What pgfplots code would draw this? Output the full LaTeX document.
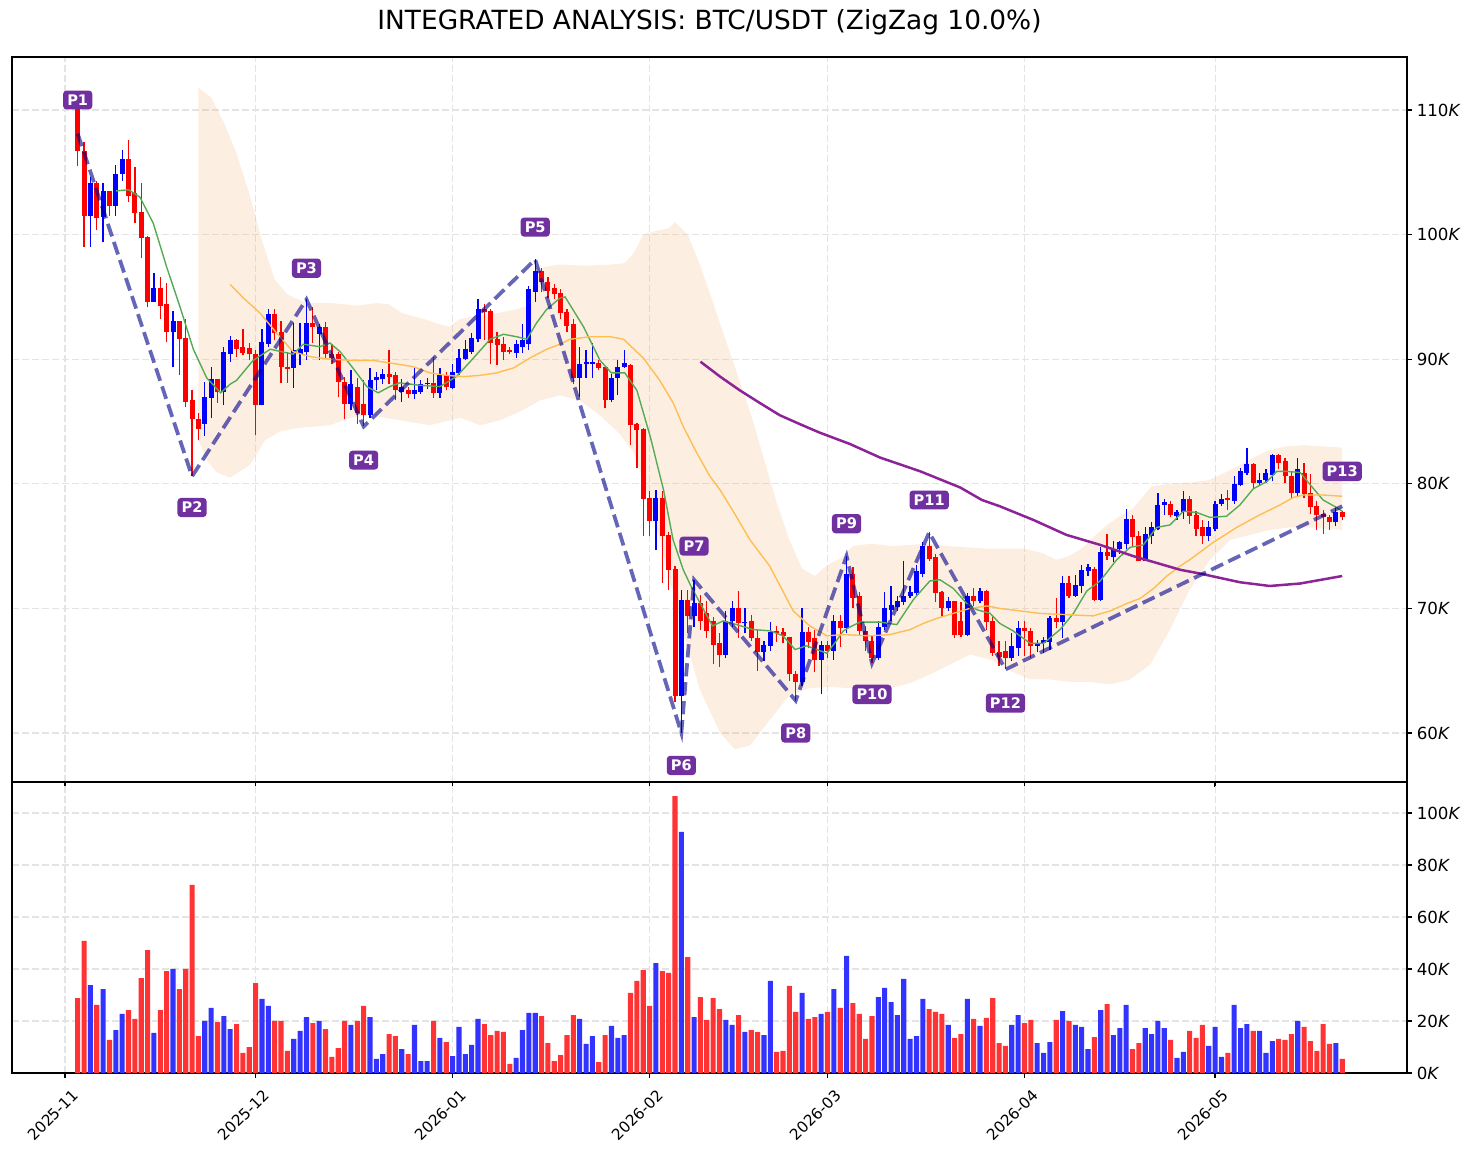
\documentclass[border=0pt]{standalone}
\usepackage{pgfplots}
\pgfplotsset{compat=1.18}
\usepackage{pgfplotstable}
\usepackage{fontspec}
\setmainfont{DejaVu Sans}

\definecolor{cred}{RGB}{255,0,0}
\definecolor{cblue}{RGB}{0,0,255}
\definecolor{vred}{RGB}{255,51,51}
\definecolor{vblue}{RGB}{51,51,255}
\definecolor{zz}{RGB}{0,0,139}
\definecolor{lblp}{RGB}{112,48,160}
\definecolor{smaA}{RGB}{85,170,85}
\definecolor{smaB}{RGB}{255,190,80}
\definecolor{smaC}{RGB}{140,35,150}
\definecolor{bandc}{RGB}{245,170,110}
\definecolor{gridc}{RGB}{228,228,228}

% day (0 = 2025-11-01), open, high, low, close, volume (K)
\pgfplotstableread{
d o h l c v
2 110.3 111.0 105.5 106.7 28.8
3 106.7 107.4 99.0 101.5 50.8
5 104.1 104.3 100.4 101.3 26.2
7 103.5 103.5 101.5 102.3 12.7
10 106.1 107.6 102.6 103.1 24.2
11 103.3 105.4 100.9 101.7 20.8
12 101.8 104.1 98.1 99.7 36.5
13 99.8 99.9 94.2 94.6 47.3
15 95.7 96.6 93.2 94.3 24.2
16 94.4 96.1 91.4 92.2 39.2
18 93.1 93.1 88.7 91.6 32.3
19 91.7 93.2 86.2 86.6 40.0
20 86.7 87.5 80.6 85.2 72.3
21 85.2 85.7 83.5 84.4 14.2
24 88.4 88.4 86.5 87.4 19.6
27 91.5 91.6 90.2 90.8 18.8
28 91.0 92.4 90.3 90.5 7.7
29 90.9 91.3 89.9 90.4 10.0
30 90.4 90.7 83.9 86.3 34.6
33 93.6 94.0 91.5 92.1 20.0
34 92.2 93.1 88.1 89.4 20.0
35 89.4 90.6 88.1 89.2 8.5
39 92.9 94.2 91.3 92.6 19.2
41 92.6 93.0 90.0 90.4 16.9
42 90.4 91.2 89.6 90.1 6.2
43 90.4 90.6 87.0 88.2 9.6
44 88.2 88.6 85.2 86.4 20.0
46 87.8 88.5 84.8 85.7 20.0
47 86.4 88.3 84.6 85.5 25.8
51 88.8 90.7 88.0 88.6 15.0
52 88.7 89.0 86.7 87.5 14.2
54 87.5 87.8 86.9 87.2 7.3
58 88.1 90.2 86.9 87.3 20.0
60 88.7 89.0 87.5 87.8 11.9
66 94.0 94.4 91.5 93.8 18.8
67 93.9 94.0 89.6 91.3 14.6
68 91.6 92.2 89.5 91.1 16.2
69 91.2 91.8 89.9 90.6 15.8
70 90.7 91.0 90.4 90.6 3.5
75 97.1 97.3 95.4 96.2 21.9
76 96.2 96.6 94.9 95.5 11.5
77 95.7 96.0 94.8 95.2 4.6
78 95.3 95.6 93.2 93.7 6.9
79 93.8 94.0 92.2 92.7 14.6
80 92.8 93.2 88.0 88.5 22.3
84 89.7 89.9 89.1 89.3 4.2
85 89.4 89.4 86.1 86.7 14.6
89 89.5 89.6 83.1 84.7 30.8
90 84.8 84.9 81.3 84.3 35.4
91 84.4 84.5 75.8 78.8 39.6
92 78.9 79.4 75.8 77.0 25.8
94 78.9 79.4 72.0 75.8 39.2
95 75.9 76.1 71.5 73.1 38.5
96 73.2 73.4 62.5 63.0 106.5
98 70.7 71.5 68.0 69.4 44.6
100 70.4 71.1 68.3 69.0 29.2
101 69.6 70.6 67.6 68.2 20.4
102 69.0 69.3 65.5 67.1 28.8
103 67.2 68.0 65.3 66.3 24.6
106 70.0 71.4 67.6 68.8 22.3
108 69.0 69.5 67.4 67.6 16.5
109 67.6 68.3 65.0 66.5 15.8
112 68.2 68.6 67.3 68.0 8.1
113 68.1 68.4 67.2 67.8 8.5
114 67.7 67.7 64.2 64.7 33.5
115 64.7 65.0 62.6 64.1 23.5
117 68.1 68.5 66.8 67.3 20.8
118 67.6 68.3 64.9 65.9 21.5
120 67.1 67.4 66.0 66.6 23.5
122 69.0 69.5 66.9 68.4 25.0
124 72.8 73.3 70.0 70.8 26.9
125 71.0 71.3 67.8 68.2 22.7
126 68.2 68.6 66.6 67.4 13.1
127 67.4 67.9 65.6 66.0 21.9
136 75.0 76.1 73.8 74.0 24.6
137 74.1 74.4 70.5 71.2 23.5
138 71.3 71.4 69.3 70.0 22.7
140 70.6 70.6 67.6 67.9 13.5
141 69.0 70.5 67.7 67.9 15.0
143 71.0 71.6 70.2 70.6 20.8
145 71.4 71.5 68.3 68.9 21.2
146 69.0 69.3 66.2 66.4 28.8
147 66.5 67.4 65.4 66.1 11.5
148 66.6 67.4 65.1 66.0 10.4
151 68.4 69.0 66.2 68.2 19.2
152 68.2 68.4 66.0 67.0 20.4
156 69.2 70.8 68.4 68.9 20.4
158 72.0 72.6 70.8 71.0 20.0
162 73.2 73.3 70.6 70.7 13.8
164 74.5 76.0 73.9 74.2 26.5
168 77.2 77.5 74.9 75.7 9.2
169 75.8 76.2 73.8 73.8 11.5
174 78.4 78.6 77.3 77.5 12.7
177 78.8 79.0 76.8 77.4 16.2
178 77.5 77.8 75.8 76.4 13.5
179 76.5 77.1 75.2 75.8 18.5
183 78.9 79.5 77.9 78.7 7.7
187 81.6 81.7 79.6 80.1 16.2
191 82.3 82.4 81.2 81.7 13.1
192 81.8 82.1 80.1 80.6 12.7
193 80.6 81.0 78.8 79.3 15.0
195 80.9 81.7 78.9 79.2 17.7
196 79.3 80.8 77.6 78.1 12.3
197 78.2 78.6 76.3 77.5 8.5
198 77.6 77.9 76.0 77.3 18.8
199 77.3 77.5 76.3 76.9 11.2
201 77.7 77.8 77.1 77.3 5.4
}\redtab

\pgfplotstableread{
d o h l c v
4 101.5 104.6 99.0 104.1 33.8
6 101.4 104.1 99.4 103.5 32.3
8 102.3 105.6 101.5 104.9 16.5
9 104.9 106.8 104.3 106.1 22.7
14 94.6 96.9 94.6 95.7 15.4
17 92.2 93.9 89.4 93.1 40.0
22 84.8 88.2 83.8 87.0 20.0
23 86.9 89.4 85.3 88.4 25.0
25 87.4 91.0 86.3 90.6 21.9
26 90.4 91.9 89.8 91.5 16.9
31 86.3 92.4 86.3 91.4 28.5
32 91.2 94.0 91.0 93.6 25.8
36 89.3 92.9 87.7 90.7 13.1
37 90.4 92.9 89.5 90.8 16.2
38 90.6 94.8 89.9 92.9 21.5
40 92.0 92.8 89.9 92.6 20.0
45 86.4 89.1 85.9 88.0 18.5
48 85.5 89.3 85.3 88.3 21.5
49 88.3 89.0 87.5 88.6 5.4
50 88.4 89.2 88.0 88.8 7.3
53 87.4 88.4 86.6 87.8 9.2
55 87.2 89.4 86.8 87.5 18.5
56 87.4 88.3 87.2 88.0 4.6
57 88.0 88.5 87.6 88.1 4.6
59 87.3 89.3 86.9 88.7 13.5
61 87.7 89.6 87.6 89.0 6.5
62 88.9 90.8 88.7 90.1 17.7
63 90.0 91.5 89.9 90.8 7.3
64 90.6 92.1 90.4 91.7 10.8
65 91.6 94.8 91.4 94.0 20.8
71 90.5 91.5 90.1 91.2 5.8
72 91.0 92.8 90.5 91.5 16.5
73 91.2 95.9 90.7 95.6 23.1
74 95.4 98.0 94.6 97.1 23.1
81 88.5 91.0 87.0 89.6 20.8
82 89.6 90.7 88.5 89.8 11.2
83 89.6 91.3 88.5 89.8 14.2
86 86.7 88.8 86.6 88.5 18.1
87 88.5 89.9 87.1 89.4 13.5
88 89.4 90.7 89.3 89.7 14.6
93 77.0 79.5 74.7 78.9 42.3
97 63.0 71.5 60.0 70.7 92.7
99 69.4 72.3 68.5 70.4 21.5
104 66.3 69.8 66.0 69.0 20.4
105 69.0 70.6 68.5 70.0 18.5
107 68.8 70.0 68.0 68.9 15.8
110 66.5 67.4 65.8 67.1 14.6
111 67.0 68.9 66.6 68.1 35.4
116 64.1 70.0 63.8 68.1 30.8
119 65.9 67.4 63.1 67.1 22.7
121 66.6 69.5 65.9 69.0 32.3
123 68.4 74.2 68.0 72.8 45.0
128 66.0 69.0 65.9 68.5 29.2
129 68.5 71.3 68.3 70.0 32.7
130 69.9 71.8 69.0 70.3 27.3
131 70.1 71.0 69.8 70.6 22.3
132 70.5 73.8 70.3 71.0 36.2
133 71.0 71.8 70.8 71.3 13.1
134 71.2 73.5 71.0 73.0 14.2
135 72.8 75.3 72.5 75.0 28.5
139 70.0 70.9 69.8 70.6 18.5
142 67.9 71.2 67.8 71.0 28.5
144 70.6 71.6 70.4 71.4 18.1
149 66.0 68.0 65.8 67.0 18.5
150 66.8 69.0 66.2 68.4 22.3
153 67.0 67.5 66.5 67.2 11.5
154 67.2 67.7 66.4 67.5 7.7
155 67.3 69.4 66.7 69.2 11.9
157 68.9 72.6 67.6 72.0 23.8
159 71.0 72.7 70.9 71.9 18.5
160 71.8 73.5 71.2 73.1 17.7
161 73.0 73.6 72.6 73.3 9.2
163 70.7 74.9 70.6 74.5 24.2
165 74.1 75.4 73.7 74.8 14.6
166 74.8 75.4 74.4 75.3 17.3
167 75.2 78.0 74.8 77.2 26.2
170 73.8 76.5 73.8 76.0 17.3
171 75.8 76.9 75.2 76.5 15.0
172 76.4 79.3 76.3 78.3 20.0
173 78.3 78.8 77.5 78.5 17.3
175 77.4 77.9 77.1 77.7 5.8
176 77.7 79.4 77.2 78.8 8.1
180 75.8 77.0 75.4 76.5 10.4
181 76.4 78.6 76.2 78.4 17.7
182 78.4 79.2 78.2 78.8 6.2
184 78.6 80.6 78.4 80.0 26.2
185 79.9 81.3 79.8 81.0 17.3
186 80.9 82.9 80.7 81.6 18.8
188 80.1 80.9 79.9 80.3 16.2
189 80.3 81.2 80.1 80.9 7.7
190 80.7 82.4 80.2 82.3 12.3
194 79.3 82.1 79.0 81.2 20.0
200 76.9 78.2 76.6 77.7 11.5
}\bluetab

% band outline: upper edge left to right, then lower edge right to left
\pgfplotstableread{
d b
21 111.8
23 111.0
25 109.0
27 106.5
29 103.3
31 99.5
33 96.4
35 95.2
38 94.5
42 94.5
46 94.3
49 94.5
51 94.4
53 93.7
56 93.3
59 92.8
60.5 92.6
62 93.2
65 93.5
68 93.7
71 94.0
73 94.3
74 96.9
75.5 97.4
78 97.6
82 97.5
86 97.6
88 97.7
89.5 98.5
91 100.0
93 100.3
95 100.5
96 101.0
98 100.0
100 97.5
102 94.5
104 91.5
106 88.5
108 85.5
110 82.0
112 78.5
114 75.5
116 73.2
118 72.6
120 73.5
122 74.0
124 75.0
127 75.2
130 75.0
133 75.1
136 75.2
139 75.0
142 74.9
145 74.8
148 74.8
151 74.8
154 74.4
156 73.9
158 74.2
160 74.8
162 75.8
164 76.7
166 77.4
168 78.0
171 79.8
174 80.0
177 80.1
180 80.3
183 81.0
186 81.8
189 82.6
192 83.0
195 83.1
198 83.0
201 82.9
201 76.3
195.9 76.5
192.8 76.5
189.6 76.3
186.5 75.9
183.4 75.5
180.2 73.9
177 71.5
173.9 68.3
170.8 65.5
167.6 64.3
164.5 63.9
161.3 64.1
158.2 64.1
155 64.3
151.9 64.3
148.7 65.0
145.6 65.9
142.4 66.3
139.3 65.5
136.1 64.7
133 64.0
129.8 63.6
126.7 63.7
123.5 63.6
120.4 63.7
117.2 63.6
114.1 63.1
111 61.1
107.8 59.0
105.4 58.7
103.1 60.0
99.9 63.5
96.8 69.0
93.6 75.5
91.5 79.5
89.5 82.5
87.3 84.0
84.2 85.5
81 86.7
77.9 87.1
74.8 86.7
71.6 85.8
68.5 85.1
65.3 84.7
62.2 85.3
57.4 84.7
52.7 85.1
48 85.5
44.9 85.3
41.7 84.7
37 84.5
33.8 84.2
31.5 83.5
29.1 81.5
26 80.5
23.9 80.9
22.3 81.9
21 83.5
}\bandtab

\pgfplotsset{
  common/.style={
    scale only axis, width=1004.4pt,
    xmin=-8.34, xmax=211.2,
    xtick={0,30,61,92,120,151,181},
    tick align=outside,
    major tick length=3.5pt,
    xtick pos=left, ytick pos=right, yticklabel pos=right,
    grid=major,
    major grid style={draw=gridc, line width=0.8pt, dash pattern=on 5pt off 2.2pt},
    axis line style={line width=0.9pt},
    every tick/.style={black, line width=0.9pt},
    tick label style={font=\fontsize{12}{14}\selectfont},
  }
}

\begin{document}
\begin{tikzpicture}[x=1pt,y=1pt]
\useasboundingbox (-8.64,-270.72) rectangle (1054.08,563.04);

\begin{axis}[common, at={(0,0)}, anchor=south west, height=522pt,
  ymin=56.07, ymax=114.25,
  xticklabels={},
  ytick={60,70,80,90,100,110},
  yticklabels={60\textit{K},70\textit{K},80\textit{K},90\textit{K},100\textit{K},110\textit{K}},
]
% band
\addplot[draw=none, fill=bandc, fill opacity=0.2] table[x=d, y=b] {\bandtab} -- cycle;
% wicks
\addplot[cred, line width=0.9pt, mark=none, quiver={u=0, v=\thisrow{h}-\thisrow{l}}] table[x=d, y=l] {\redtab};
\addplot[cblue, line width=0.9pt, mark=none, quiver={u=0, v=\thisrow{h}-\thisrow{l}}] table[x=d, y=l] {\bluetab};
% bodies
\addplot[cred, line width=3.6pt, mark=none, quiver={u=0, v=\thisrow{o}-\thisrow{c}}] table[x=d, y=c] {\redtab};
\addplot[cblue, line width=3.6pt, mark=none, quiver={u=0, v=\thisrow{c}-\thisrow{o}}] table[x=d, y=o] {\bluetab};
% short MA
\addplot[smaA, line width=1pt, mark=none] coordinates {
(8,103.5)(10,103.6)(11.8,103.0)(13.9,100.9)(16,97.4)(18.1,94.2)(20.2,90.8)(22.3,88.5)(24.5,87.3)(26,88.0)(27,88.3)(29.6,89.9)(32.3,90.8)(35.9,90.4)(37.5,91.2)(40.1,91.0)(41.7,91.3)(43.3,90.6)(45.3,89.3)(47.5,87.8)(49.3,87.3)(51.1,87.8)(52.7,88.1)(55.9,87.9)(59,87.8)(61.6,88.6)(64.3,90.1)(66.9,91.6)(69,92.0)(71.1,91.8)(72.7,91.6)(74.2,92.9)(75.8,94.0)(77.9,94.9)(78.7,95.0)(81.6,92.6)(84.2,89.9)(86,88.9)(88.1,88.9)(90,87.5)(92.1,83.8)(94.2,79.5)(95.7,75.5)(97.3,73.1)(98.5,71.8)(100.5,69.9)(101.9,68.6)(103.6,69.0)(105.7,68.7)(108.3,68.3)(111,68.2)(113,67.8)(114.9,66.7)(116.7,67.0)(119.9,66.4)(121.4,67.4)(122.5,68.2)(123.5,68.5)(125.1,68.9)(128.3,68.9)(130.9,68.7)(133.5,70.7)(136.1,72.2)(137.7,72.3)(139.8,71.6)(141.9,70.4)(143.5,69.9)(145.6,69.6)(147.1,68.8)(149.2,68.2)(151.9,67.2)(154,67.2)(156.6,68.3)(158.7,69.6)(160.8,71.4)(162.9,72.2)(165.5,73.9)(167.6,74.9)(169.7,75.1)(171.8,76.5)(173.9,76.7)(176,77.8)(178.1,77.7)(180.2,77.3)(182.8,77.4)(184.9,78.3)(187,79.6)(189.2,80.2)(190.7,81.0)(192.3,81.0)(194.4,80.9)(196,79.9)(198,78.7)(200.1,78.1)(201,77.8)
};
% medium MA
\addplot[smaB, line width=1pt, mark=none] coordinates {
(26,96.0)(28.1,94.9)(30.7,93.7)(33.3,92.1)(35.9,90.6)(38.6,90.2)(41.7,90.0)(45.4,89.9)(48.5,89.9)(51.1,89.7)(54.8,89.4)(57.4,88.9)(60.1,88.7)(62.7,88.6)(65.3,88.7)(67.9,88.9)(70.6,89.3)(73.2,90.1)(75.8,90.8)(77.9,91.2)(79.5,91.6)(82.6,91.8)(85.8,91.8)(87.9,91.6)(91,90.1)(93.6,88.3)(95.7,86.5)(97.3,84.6)(99.4,82.5)(101.5,80.6)(103.1,79.5)(105.5,77.5)(107.8,75.5)(110.9,73.4)(114.6,69.8)(117.2,68.6)(119.9,67.8)(122.5,67.9)(126.7,67.8)(129.8,67.9)(133,68.3)(135.1,68.8)(137.2,69.2)(139.8,69.6)(142.4,70.0)(145.1,70.2)(147.1,70.0)(150.3,69.8)(153.4,69.6)(157.6,69.5)(161.8,69.4)(164.5,69.8)(167.1,70.4)(169.2,70.8)(171.3,71.6)(173.4,72.6)(175.5,73.4)(177,73.9)(180.7,75.3)(184.4,76.5)(188,77.5)(191.2,78.3)(193.3,78.9)(194.9,79.1)(198,79.1)(201,79.0)
};
% long MA
\addplot[smaC, line width=1.8pt, mark=none] coordinates {
(100,89.8)(103.1,88.6)(106.2,87.5)(109.3,86.5)(112.5,85.5)(115.6,84.8)(118.8,84.1)(123.5,83.2)(128.3,82.1)(134.6,81.0)(140.9,79.7)(144.3,78.7)(147.1,78.2)(152.4,77.1)(157.6,75.9)(162.9,75.1)(168.1,74.2)(175.5,73.1)(178.6,72.8)(184.9,72.1)(189.6,71.8)(194.4,72.0)(201,72.6)
};
% zigzag
\addplot[zz, draw opacity=0.6, line width=2.7pt, dash pattern=on 9.5pt off 4.2pt, mark=none] coordinates {
(2,108.1)(20,80.6)(38,94.8)(47,84.6)(74,98.0)(97,60.0)(99,72.3)(115,62.6)(123,74.2)(127,65.6)(136,76.1)(148,65.1)(201,78.2)
};
% pivot labels
\addplot[only marks, mark=none, nodes near coords, point meta=explicit symbolic,
  every node near coord/.append style={anchor=center, fill=lblp, text=white,
    font=\bfseries\fontsize{10.5}{12}\selectfont, rounded corners=2.5pt, inner sep=3pt}]
  table[x=d, y=p, meta=lab] {
d p lab
2 110.8 P1
20 78.1 P2
38 97.3 P3
47 81.9 P4
74 100.6 P5
97 57.4 P6
99 75.0 P7
115 60.0 P8
123 76.8 P9
127 63.1 P10
136 78.7 P11
148 62.4 P12
201 81.0 P13
};
\end{axis}

\begin{axis}[common, at={(0,0)}, anchor=north west, height=209.52pt,
  ymin=0, ymax=111.9,
  xticklabels={2025-11,2025-12,2026-01,2026-02,2026-03,2026-04,2026-05},
  xticklabel style={font=\fontsize{11}{13}\selectfont, rotate=45, anchor=north east, xshift=1.4pt, yshift=-5.2pt},
  ytick={0,20,40,60,80,100},
  yticklabels={0\textit{K},20\textit{K},40\textit{K},60\textit{K},80\textit{K},100\textit{K}},
]
\addplot[ybar, bar width=0.8, bar shift=0pt, fill=vred, draw=none] table[x=d, y=v] {\redtab};
\addplot[ybar, bar width=0.8, bar shift=0pt, fill=vblue, draw=none] table[x=d, y=v] {\bluetab};
\end{axis}

\node[font=\fontsize{19}{23}\selectfont] at (502.2,547.2) {INTEGRATED ANALYSIS: BTC/USDT (ZigZag 10.0\%)};
\end{tikzpicture}
\end{document}
